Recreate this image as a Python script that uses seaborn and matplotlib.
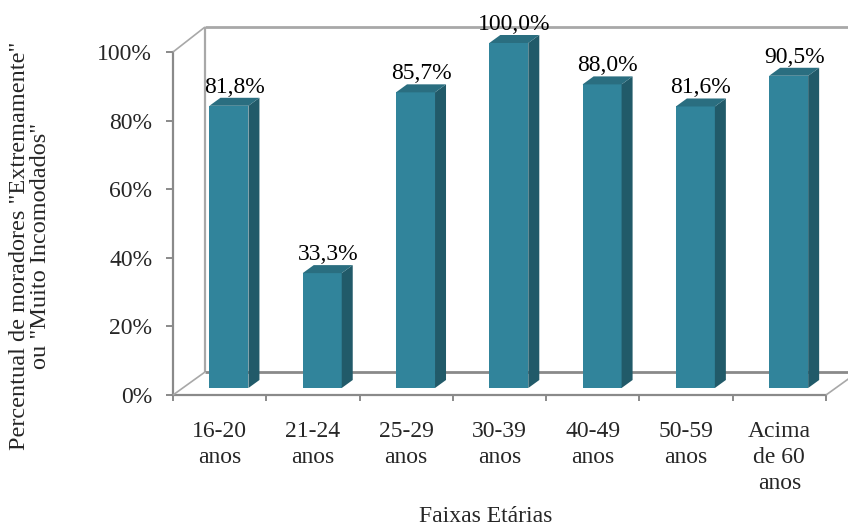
import numpy as np
import pandas as pd
import seaborn as sns
import matplotlib
matplotlib.use("Agg")
import matplotlib.pyplot as plt
from matplotlib.patches import Polygon

# Data
categories = ["16-20\nanos", "21-24\nanos", "25-29\nanos", "30-39\nanos",
              "40-49\nanos", "50-59\nanos", "Acima\nde 60\nanos"]
values = [81.8, 33.3, 85.7, 100.0, 88.0, 81.6, 90.5]
y_ticks = [0, 20, 40, 60, 80, 100]

x_title = "Faixas Etárias"
y_title = 'Percentual de moradores "Extremamente"\nou "Muito Incomodados"'

# Styling
FRONT = "#31849B"
SIDE = "#215A69"
TOP = "#2A6E80"
FRAME = "#8A8A8A"
WALL = "#A8A8A8"
FONT_SIZE = 17

sns.set_theme(style="white")
plt.rcParams["font.family"] = ["Liberation Serif", "DejaVu Serif"]

W, H = 848, 527
fig = plt.figure(figsize=(W / 100, H / 100), dpi=100)

# Front plane: carries the axis lines, ticks and tick labels
ax_front = fig.add_axes([173 / W, (H - 395) / H, 653 / W, 343 / H])
# Bar plane: slightly deeper than the front plane
ax = fig.add_axes([182.3 / W, (H - 388) / H, 653 / W, 345 / H])

n = len(categories)
px_per_cat = 653 / n
px_per_pct = 345 / 100.0

def dxp(px):
    return px / px_per_cat

def dyp(px):
    return px / px_per_pct

# --- front axes ---
ax_front.set_xlim(-0.5, n - 0.5)
ax_front.set_ylim(0, 100)
for s in ["top", "right"]:
    ax_front.spines[s].set_visible(False)
for s in ["left", "bottom"]:
    ax_front.spines[s].set_color(FRAME)
    ax_front.spines[s].set_linewidth(1.6)
ax_front.set_facecolor("none")
ax_front.set_yticks(y_ticks)
ax_front.set_yticklabels([f"{t}%" for t in y_ticks], fontsize=FONT_SIZE)
ax_front.set_xticks(np.arange(-0.5, n, 1.0))
ax_front.set_xticklabels([""] * (n + 1))
ax_front.set_xticks(np.arange(n), minor=True)
ax_front.set_xticklabels(categories, minor=True, fontsize=FONT_SIZE,
                         linespacing=1.32, va="top")
ax_front.tick_params(axis="y", which="major", direction="out", length=5,
                     width=1.4, color=FRAME, pad=10, left=True)
ax_front.tick_params(axis="x", which="major", direction="out", length=4,
                     width=1.4, color=FRAME, bottom=True)
ax_front.tick_params(axis="x", which="minor", length=0, pad=18.5, bottom=True)

# --- bars ---
df = pd.DataFrame({"faixa": categories, "pct": values})
bar_w = 39 / px_per_cat
sns.barplot(data=df, x="faixa", y="pct", order=categories, color=FRONT,
            saturation=1, width=bar_w, linewidth=0, ax=ax, zorder=3)
ax.set_xlim(-0.5, n - 0.5)
ax.set_ylim(0, 100)
ax.axis("off")

ddx, ddy = dxp(11), dyp(8)
for i, v in enumerate(values):
    x0, x1 = i - bar_w / 2, i + bar_w / 2
    side = Polygon([(x1, 0), (x1 + ddx, ddy), (x1 + ddx, v + ddy), (x1, v)],
                   closed=True, facecolor=SIDE, edgecolor="none",
                   zorder=3, clip_on=False)
    top = Polygon([(x0, v), (x1, v), (x1 + ddx, v + ddy), (x0 + ddx, v + ddy)],
                  closed=True, facecolor=TOP, edgecolor="none",
                  zorder=3, clip_on=False)
    ax.add_patch(side)
    ax.add_patch(top)
    label = f"{v:.1f}%".replace(".", ",")
    ax.annotate(label, xy=(i + ddx / 2, v), xytext=(0, 9.5),
                textcoords="offset points", ha="center", va="baseline",
                fontsize=FONT_SIZE, color="black", annotation_clip=False,
                zorder=5)

# --- back wall and floor of the 3D frame ---
bx, by = dxp(22.7), dyp(16)      # back plane offset from the bar plane
fx, fy = dxp(-9.3), dyp(-7)      # front plane offset from the bar plane
left_b = -0.5 + bx
right_b = n - 0.5 + bx
line_kw = dict(clip_on=False, solid_capstyle="butt")
ax.plot([left_b, left_b], [by, 100 + by], color=WALL, lw=1.6, zorder=1, **line_kw)
ax.plot([left_b, right_b + 0.5], [100 + by, 100 + by], color=WALL, lw=2.0, zorder=1, **line_kw)
ax.plot([left_b, right_b + 0.5], [by, by], color=FRAME, lw=2.0, zorder=1, **line_kw)
ax.plot([-0.5 + fx, left_b], [100 * 343 / 345 + fy, 100 + by], color=WALL, lw=1.2, zorder=1, **line_kw)
ax.plot([-0.5 + fx, left_b], [fy, by], color=WALL, lw=1.2, zorder=1, **line_kw)
ax.plot([n - 0.5 + fx, right_b], [fy, by], color=WALL, lw=1.2, zorder=1, **line_kw)

# --- titles ---
fig.text(486 / W, 1 - 522 / H, x_title, ha="center", va="baseline",
         fontsize=FONT_SIZE)
fig.text(30 / W, 1 - 246 / H, y_title, ha="center", va="center",
         rotation=90, fontsize=FONT_SIZE + 0.5, multialignment="center",
         linespacing=1.0)

fig.savefig("out.png", dpi=100, facecolor="white")
